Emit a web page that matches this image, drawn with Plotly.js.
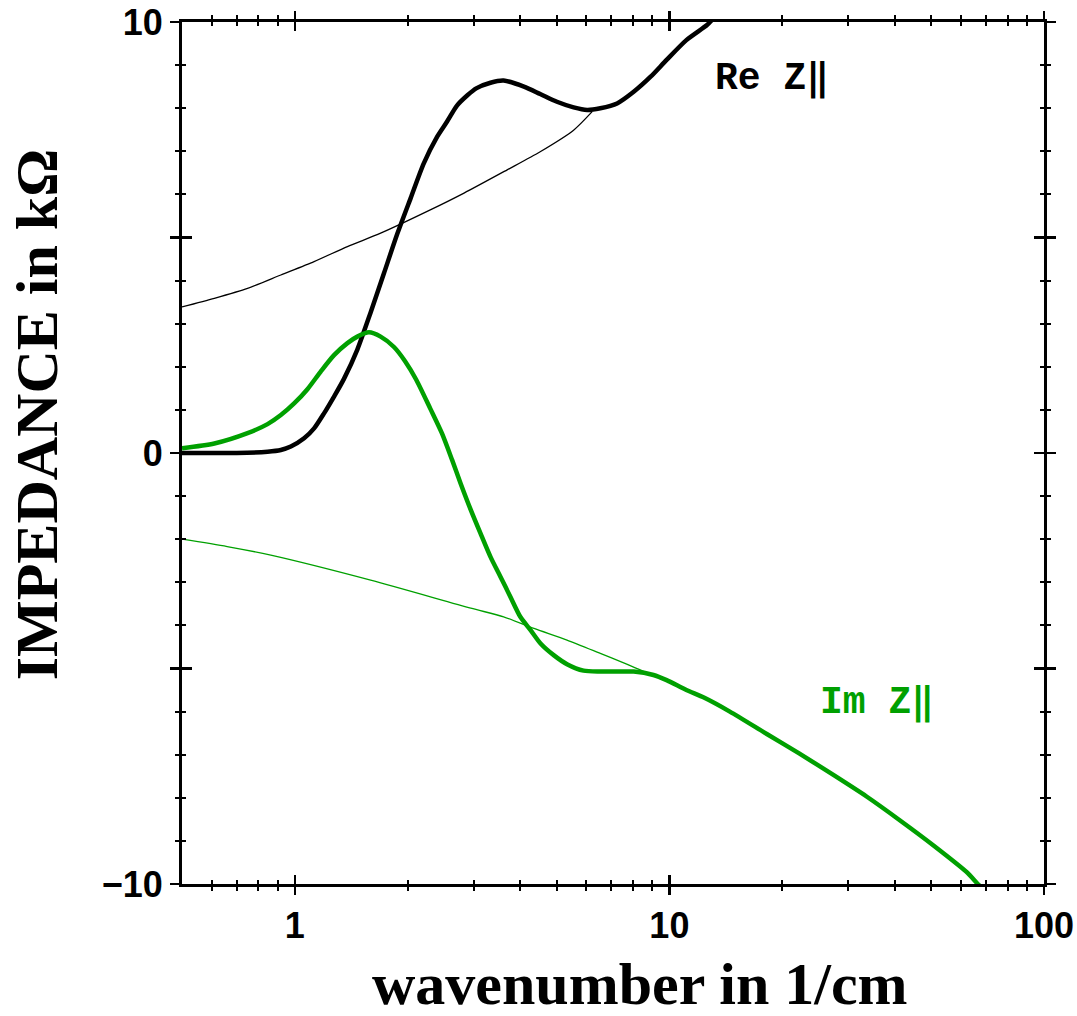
<!DOCTYPE html>
<html>
<head>
<meta charset="utf-8">
<script src="https://cdn.plot.ly/plotly-3.0.1.min.js"></script>
<style>html,body{margin:0;padding:0;background:#fff;}</style>
</head>
<body>
<div id="chart" style="width:1077px;height:1016px;"></div>
<script>
// ---- data ----
// Re Z (thick black)
const reK = [0.5,0.6,0.7,0.846,0.918,0.976,1.059,1.126,1.197,1.273,1.353,1.469,1.594,1.73,1.877,2.04,2.21,2.40,2.55,2.71,2.89,3.05,3.33,3.61,4.09,4.52,5.01,5.55,6.03,6.54,7.25,8.03,8.91,9.83,11.1,12.6,13.0];
const reZ = [0.0,0.0,0.0,0.03,0.07,0.15,0.34,0.57,0.92,1.31,1.72,2.40,3.26,4.17,5.08,5.92,6.72,7.34,7.69,8.06,8.30,8.46,8.59,8.64,8.50,8.33,8.15,8.02,7.96,8.0,8.11,8.38,8.73,9.12,9.58,9.93,10.05];

// thin black reference curve
const reRefK = [0.5,0.61,0.748,0.918,1.126,1.382,1.695,2.30,2.83,3.69,4.52,5.55,6.22];
const reRefZ = [3.39,3.59,3.82,4.13,4.44,4.79,5.10,5.64,6.03,6.57,6.99,7.49,7.92];

// Im Z (thick green)
const imK = [0.5,0.61,0.748,0.846,0.918,0.996,1.081,1.173,1.273,1.382,1.469,1.578,1.695,1.84,1.97,2.11,2.30,2.47,2.63,2.77,2.95,3.13,3.33,3.54,3.76,4.0,4.26,4.53,4.91,5.33,5.90,6.54,7.25,8.03,9.07,9.83,11.1,12.4,14.5,18.2,22.2,27.4,33.6,41.2,50.6,62.1,66.1,67.5];
const imZ = [0.11,0.22,0.46,0.67,0.88,1.15,1.48,1.89,2.27,2.55,2.70,2.80,2.70,2.46,2.13,1.70,1.03,0.46,-0.16,-0.70,-1.32,-1.86,-2.41,-2.87,-3.33,-3.80,-4.11,-4.42,-4.69,-4.90,-5.05,-5.07,-5.07,-5.07,-5.15,-5.27,-5.50,-5.68,-6.0,-6.52,-6.97,-7.47,-7.97,-8.52,-9.10,-9.72,-9.97,-10.05];

// thin green reference curve
const imRefK = [0.5,0.66,0.863,1.594,2.95,3.61,4.35,5.33,6.54,7.55,8.5,9.07];
const imRefZ = [-2.0,-2.17,-2.37,-2.95,-3.60,-3.80,-4.07,-4.34,-4.65,-4.87,-5.06,-5.15];

const xMajor = [1,10,100];
const xMajorText = ['1','10','100'];
const xMinor = [0.6,0.7,0.8,0.9,2,3,4,5,6,7,8,9,20,30,40,50,60,70,80,90];
const yMajor = [-10,-5,0,5,10];
const yMajorText = ['\u221210','','0','','10'];
const yMinor = [-9,-8,-7,-6,-4,-3,-2,-1,1,2,3,4,6,7,8,9];

const labelRe = 'Re Z\u2016';
const labelIm = 'Im Z\u2016';
const xTitle = 'wavenumber in 1/cm';
const yTitle = 'IMPEDANCE in k\u03A9';

// ---- styling ----
const GREEN = 'rgb(0,160,0)';
const xRange = [Math.log10(0.5), 2];
const yRange = [-10, 10];
const SM = 0.7;

const traces = [
  {x: reRefK, y: reRefZ, xaxis:'x', yaxis:'y', mode:'lines', line:{color:'black', width:1.3, shape:'spline', smoothing:SM}, hoverinfo:'skip'},
  {x: imRefK, y: imRefZ, xaxis:'x', yaxis:'y', mode:'lines', line:{color:GREEN, width:1.3, shape:'spline', smoothing:SM}, hoverinfo:'skip'},
  {x: reK, y: reZ, xaxis:'x2', yaxis:'y2', mode:'lines', line:{color:'black', width:4.5, shape:'spline', smoothing:SM}, name:'Re Z'},
  {x: imK, y: imZ, xaxis:'x2', yaxis:'y2', mode:'lines', line:{color:GREEN, width:4.5, shape:'spline', smoothing:SM}, name:'Im Z'}
];

const tickFont = {family:'Liberation Sans, Arial, sans-serif', size:36, color:'black', weight:'bold'};
const titleFont = {family:'Liberation Serif, Times New Roman, serif', size:60, color:'black', weight:'bold'};
const labelFont = {family:'Liberation Mono, Courier New, monospace', size:38, weight:'bold'};

const layout = {
  width:1077, height:1016,
  margin:{l:182, r:33, t:22, b:132},
  paper_bgcolor:'white', plot_bgcolor:'white',
  showlegend:false,
  xaxis:{
    type:'log', range:xRange, tickmode:'array', tickvals:xMajor, ticktext:xMajorText,
    ticks:'outside', ticklen:8, tickwidth:2.5, tickcolor:'black',
    showline:true, linewidth:3, linecolor:'black', mirror:'ticks',
    showgrid:false, zeroline:false, tickfont:tickFont,
    minor:{tickmode:'array', tickvals:xMinor, ticks:'outside', ticklen:4, tickwidth:2, tickcolor:'black', showgrid:false}
  },
  yaxis:{
    range:yRange, tickmode:'array', tickvals:yMajor, ticktext:yMajorText,
    ticks:'outside', ticklen:9, tickwidth:2.5, tickcolor:'black',
    showline:true, linewidth:3, linecolor:'black', mirror:'ticks',
    showgrid:false, zeroline:false, tickfont:tickFont,
    minor:{tickmode:'array', tickvals:yMinor, ticks:'outside', ticklen:4, tickwidth:2, tickcolor:'black', showgrid:false}
  },
  xaxis2:{
    type:'log', range:xRange, overlaying:'x', anchor:'y2', side:'bottom',
    tickmode:'array', tickvals:xMajor, showticklabels:false,
    ticks:'inside', ticklen:9, tickwidth:2.5, tickcolor:'black',
    showline:false, mirror:'ticks', showgrid:false, zeroline:false,
    minor:{tickmode:'array', tickvals:xMinor, ticks:'inside', ticklen:4, tickwidth:2, tickcolor:'black', showgrid:false}
  },
  yaxis2:{
    range:yRange, overlaying:'y', anchor:'x2', side:'left',
    tickmode:'array', tickvals:yMajor, showticklabels:false,
    ticks:'inside', ticklen:10, tickwidth:2.5, tickcolor:'black',
    showline:false, mirror:'ticks', showgrid:false, zeroline:false,
    minor:{tickmode:'array', tickvals:yMinor, ticks:'inside', ticklen:4, tickwidth:2, tickcolor:'black', showgrid:false}
  },
  annotations:[
    {text:xTitle, xref:'paper', yref:'paper', x:0.531, y:-0.116, xanchor:'center', yanchor:'middle', showarrow:false, font:titleFont},
    {text:yTitle, xref:'paper', yref:'paper', x:-0.168, y:0.544, xanchor:'center', yanchor:'middle', textangle:-90, showarrow:false, font:titleFont},
    {text:labelRe, xref:'paper', yref:'paper', x:0.616, y:0.935, xanchor:'left', yanchor:'middle', showarrow:false,
     font:Object.assign({color:'black'}, labelFont)},
    {text:labelIm, xref:'paper', yref:'paper', x:0.738, y:0.21, xanchor:'left', yanchor:'middle', showarrow:false,
     font:Object.assign({color:GREEN}, labelFont)}
  ]
};

Plotly.newPlot('chart', traces, layout, {displayModeBar:false, staticPlot:true});
</script>
</body>
</html>
